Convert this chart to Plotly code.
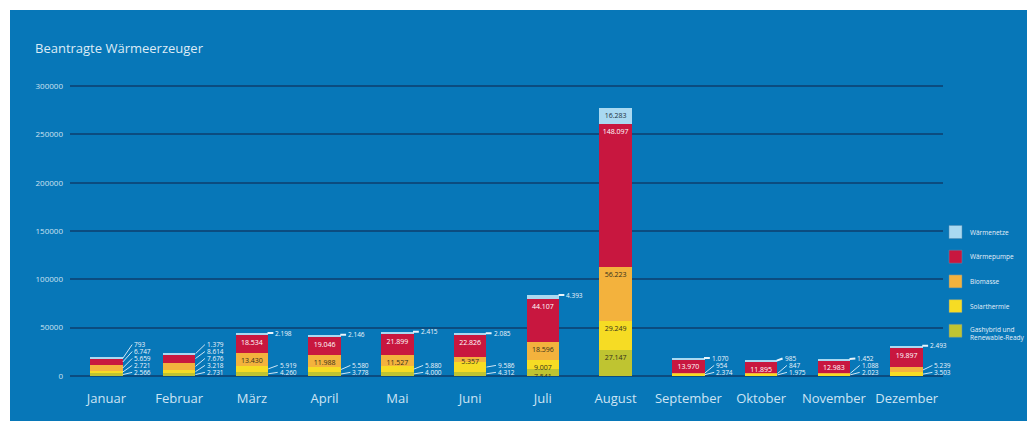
import plotly.graph_objects as go

# Monthly applications per heat generator type (stack order bottom -> top)
months = ["Januar", "Februar", "März", "April", "Mai", "Juni", "Juli",
          "August", "September", "Oktober", "November", "Dezember"]
gashybrid = [2566, 2731, 4260, 3778, 4000, 4312, 7541, 27147, 0, 0, 0, 0]
solarthermie = [2721, 3218, 5919, 5580, 5880, 9586, 9007, 29249, 2374, 1975, 2023, 3503]
biomasse = [5659, 7676, 13430, 11988, 11527, 5357, 18596, 56223, 954, 847, 1088, 5239]
waermepumpe = [6747, 8614, 18534, 19046, 21899, 22826, 44107, 148097, 13970, 11895, 12983, 19897]
waermenetze = [793, 1379, 2198, 2146, 2415, 2085, 4393, 16283, 1070, 985, 1452, 2493]

# How each value label is shown: inside the bar, fanned out to the right, or level with the bar top
gas_mode = ["fan"] * 6 + ["in", "in"] + ["none"] * 4
solar_mode = ["fan"] * 6 + ["in", "in"] + ["fan"] * 4
bio_mode = ["fan", "fan"] + ["in"] * 6 + ["fan"] * 4
wp_mode = ["fan", "fan"] + ["in"] * 10
wn_mode = ["fan", "fan"] + ["top"] * 5 + ["in"] + ["top"] * 4

series = [
    ("Gashybrid und<br>Renewable-Ready", gashybrid, "#bfc431", "#33301c", gas_mode),
    ("Solarthermie", solarthermie, "#f6dc24", "#33301c", solar_mode),
    ("Biomasse", biomasse, "#f3b23d", "#33301c", bio_mode),
    ("Wärmepumpe", waermepumpe, "#c8173f", "#ffffff", wp_mode),
    ("Wärmenetze", waermenetze, "#a9d9f1", "#1d3140", wn_mode),
]

W, H = 1027, 421
PLOT_L, PLOT_R, PLOT_T, PLOT_B = 70, 943, 85, 377
Y_MIN, Y_MAX = 0, 300000
Y_PAD = 1200
UNIT_PER_PX = (Y_MAX - Y_MIN) / (PLOT_B - PLOT_T)
BAR_W = 0.45
FONT = "Open Sans"
PANEL = "#0777b8"
LIGHT = "#d4e7f4"
SLOT0, SLOT_STEP = 3.5, 7.0

pw = PLOT_R - PLOT_L
ph = PLOT_B - PLOT_T


def px_x(p):
    return (p - PLOT_L) / pw


def px_y(p):
    return (PLOT_B - p) / ph


def fmt(v):
    return f"{v:,}".replace(",", ".")


fig = go.Figure()
for gi, (name, vals, color, tcolor, mode) in enumerate(series):
    fig.add_trace(go.Bar(
        x=list(range(len(months))), y=vals, name=name, width=BAR_W,
        marker=dict(color=color, line=dict(width=0)),
        text=[fmt(v) if m == "in" else "" for v, m in zip(vals, mode)],
        textposition="inside", insidetextanchor="end", textangle=0,
        constraintext="none",
        textfont=dict(size=7, color=tcolor, family=FONT),
        showlegend=False, hoverinfo="skip",
    ))

label_font = dict(size=6.5, color="#eef5fb", family=FONT)
annotations = []
for i in range(len(months)):
    base = 0
    slot = 0
    total = sum(s[1][i] for s in series)
    for name, vals, color, tcolor, mode in series:
        v = vals[i]
        m = mode[i]
        xr = i + BAR_W / 2
        if m == "fan":
            annotations.append(dict(
                x=xr, y=base + v / 2, xref="x", yref="y",
                ax=xr + 0.13, ay=(SLOT0 + SLOT_STEP * slot) * UNIT_PER_PX,
                axref="x", ayref="y",
                text=fmt(v), showarrow=True, arrowhead=0, arrowwidth=1,
                arrowcolor="#cfe6f5", xanchor="left", yanchor="middle",
                font=label_font,
            ))
            slot += 1
        elif m == "top":
            label_y = max(total, (SLOT0 + SLOT_STEP * slot) * UNIT_PER_PX)
            annotations.append(dict(
                x=xr - 0.01, y=total, xref="x", yref="y",
                ax=xr + 0.07, ay=label_y, axref="x", ayref="y",
                text=fmt(v), showarrow=True, arrowhead=0, arrowwidth=2,
                arrowcolor="#e9f4fb", xanchor="left", yanchor="middle",
                font=label_font,
            ))
        base += v

annotations.append(dict(
    text="Beantragte Wärmeerzeuger", xref="paper", yref="paper",
    x=px_x(33), y=px_y(48), xanchor="left", yanchor="middle",
    showarrow=False, font=dict(size=13, color="#dcebf6", family=FONT),
))

# Key on the right: colour squares with names, top entry = top of the stack
shapes = [dict(
    type="rect", xref="paper", yref="paper", layer="below",
    x0=px_x(10), x1=px_x(W + 5), y0=px_y(H + 5), y1=px_y(10),
    fillcolor=PANEL, line=dict(width=0),
)]
KEY_TOP, KEY_STEP, KEY_SIZE, KEY_X = 232, 24.7, 13, 949
for k, (name, vals, color, tcolor, mode) in enumerate(reversed(series)):
    cy = KEY_TOP + KEY_STEP * k
    shapes.append(dict(
        type="rect", xref="paper", yref="paper",
        x0=px_x(KEY_X), x1=px_x(KEY_X + KEY_SIZE),
        y0=px_y(cy + KEY_SIZE / 2), y1=px_y(cy - KEY_SIZE / 2),
        fillcolor=color, line=dict(color="#5a8fb3", width=0.5),
    ))
    annotations.append(dict(
        text=name, xref="paper", yref="paper",
        x=px_x(KEY_X + KEY_SIZE + 6), y=px_y(cy + (3 if "<br>" in name else 0)),
        xanchor="left", yanchor="middle", align="left", showarrow=False,
        font=dict(size=6.5, color="#e6f0f8", family=FONT),
    ))

fig.update_layout(
    width=W, height=H,
    margin=dict(l=PLOT_L, r=W - PLOT_R, t=PLOT_T, b=H - PLOT_B, pad=0),
    paper_bgcolor="#ffffff", plot_bgcolor="rgba(0,0,0,0)",
    barmode="stack", separators=",.", showlegend=False,
    font=dict(family=FONT, color=LIGHT),
    shapes=shapes,
    annotations=annotations,
    xaxis=dict(
        range=[-0.5, len(months) - 0.5], tickvals=list(range(len(months))),
        ticktext=months, showgrid=False, zeroline=False, showline=False,
        ticks="", ticklabelstandoff=12,
        tickfont=dict(size=13, color="#cde4f4", family=FONT),
    ),
    yaxis=dict(
        range=[Y_MIN - Y_PAD, Y_MAX + Y_PAD],
        tickvals=[0, 50000, 100000, 150000, 200000, 250000, 300000],
        tickformat="d", showgrid=True, gridcolor="#0b4c80", gridwidth=1.5,
        zeroline=True, zerolinecolor="#0b4c80", zerolinewidth=2,
        showline=False, ticks="", ticklabelstandoff=6,
        tickfont=dict(size=8, color="#cde2f1", family=FONT),
    ),
)

fig.write_html("out.html")
